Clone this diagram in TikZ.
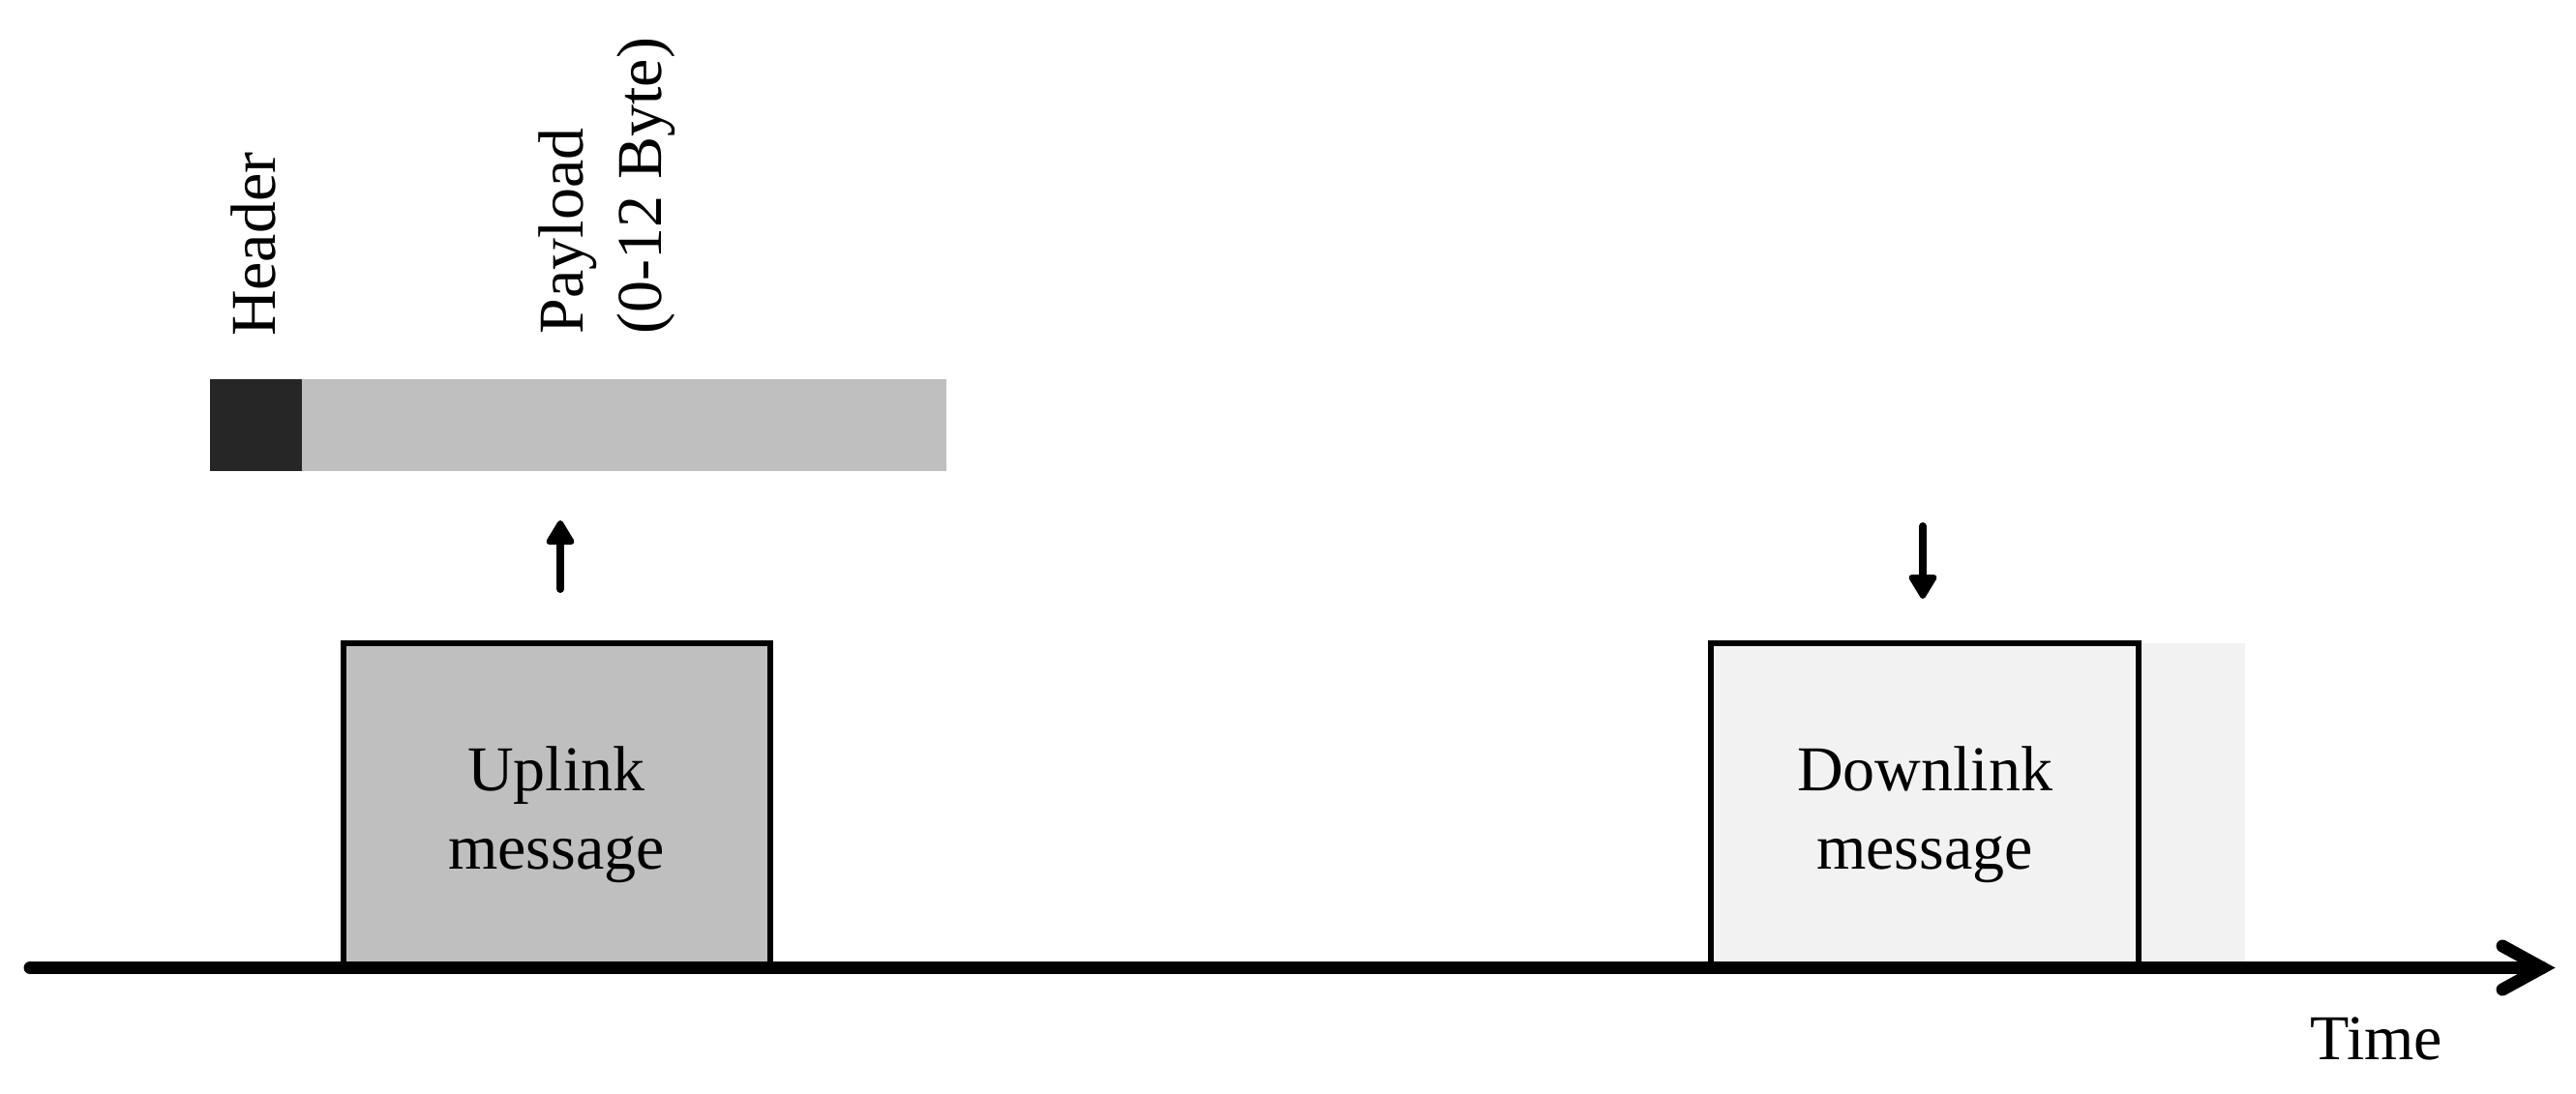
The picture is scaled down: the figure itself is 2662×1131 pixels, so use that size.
\documentclass[tikz,border=0pt]{standalone}
\usepackage{fontspec}
\setmainfont{Liberation Serif}
\usetikzlibrary{calc}
\definecolor{hdrfill}{HTML}{262626}
\definecolor{payfill}{HTML}{BFBFBF}
\definecolor{upfill}{HTML}{BFBFBF}
\definecolor{dnfill}{HTML}{F2F2F2}
\begin{document}
\begin{tikzpicture}[x=1pt,y=-1pt,
  lbl/.style={font=\fontsize{66pt}{81pt}\selectfont, inner sep=0pt, outer sep=0pt, align=center},
  msgbox/.style={draw=black, line width=6pt, minimum width=441.5pt, minimum height=335pt,
                 inner sep=0pt, outer sep=0pt, anchor=north west},
  bar/.style={inner sep=0pt, outer sep=0pt, anchor=north west, minimum height=95pt},
  axisline/.style={line width=13pt, line cap=round},
  evshaft/.style={line width=8pt, line cap=round},
  evhead/.style={fill=black, draw=black, line width=6pt, line join=round}
]
\useasboundingbox (0,0) rectangle (2662,1131);
% frame structure
\node[bar, fill=hdrfill, minimum width=95pt] (hdrbar) at (217,392) {};
\node[bar, fill=payfill, minimum width=666pt] (paybar) at (312,392) {};
\node[lbl, rotate=90, anchor=base west] (hdrtxt) at (284,348) {Header};
\node[lbl, rotate=90, anchor=north west, align=left] (paytxt) at (557,345) {Payload\\(0-12 Byte)};
% messages
\node[bar, fill=dnfill, minimum width=110pt, minimum height=335pt] (dnext) at (2210,665) {};
\node[msgbox, fill=upfill] (up) at (354.5,665) {};
\node[msgbox, fill=dnfill] (dn) at (1768,665) {};
\node[lbl, anchor=north] (uptxt) at (575,772) {Uplink\\message};
\node[lbl, anchor=north] (dntxt) at (1989,772) {Downlink\\message};
% event arrows
\coordinate (ua0) at (579,609);
\coordinate (ua1) at (579,541);
\coordinate (da0) at (1987,544);
\coordinate (da1) at (1987,616);
\draw[evshaft] (ua0) -- ($(ua1)+(0,14)$);
\filldraw[evhead] (ua1) -- ++(-11.5,19) -- ++(23,0) -- cycle;
\draw[evshaft] (da0) -- ($(da1)+(0,-14)$);
\filldraw[evhead] (da1) -- ++(-11.5,-19) -- ++(23,0) -- cycle;
% time axis
\coordinate (t0) at (31,1000.5);
\coordinate (t1) at (2627,1000.5);
\coordinate (tw1) at (2586,978);
\coordinate (tw2) at (2586,1023);
\draw[axisline] (t0) -- (t1);
\draw[axisline, line join=miter] (tw1) -- (t1) -- (tw2);
\node[lbl, anchor=base west] (timetxt) at (2387,1095) {Time};
\end{tikzpicture}
\end{document}
